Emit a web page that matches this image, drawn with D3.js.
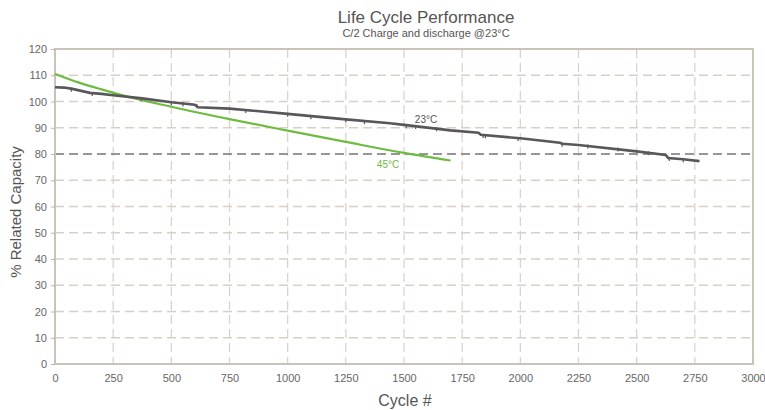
<!DOCTYPE html>
<html>
<head>
<meta charset="utf-8">
<script src="https://cdn.jsdelivr.net/npm/d3@7"></script>
<style>
    body { margin: 0; background: #fff; }
    text { font-family: "Liberation Sans", Arial, sans-serif; }
</style>
</head>
<body>
<div id="container"></div>
<script>
// cycles / capacity
const cycles23 = [0, 40, 75, 150, 200, 250, 375, 500, 600, 615, 750, 1000, 1250, 1440, 1500, 1700, 1820, 1830, 2000, 2170, 2180, 2250, 2500, 2625, 2635, 2700, 2770];
const capacity23 = [105.4, 105.3, 104.8, 103.3, 102.9, 102.4, 101.2, 99.7, 98.8, 97.8, 97.3, 95.3, 93.2, 91.7, 91.1, 89.0, 88.1, 87.3, 86.0, 84.3, 83.9, 83.4, 81.0, 79.6, 78.5, 78.0, 77.3];
// little glitch marks along the 23°C trace
const spikeCycles = [70, 160, 370, 500, 550, 610, 820, 1000, 1100, 1250, 1330, 1510, 1550, 1640, 1840, 1850, 1990, 2180, 2290, 2420, 2550, 2640, 2700];
const spikeValues = [104.9, 103.2, 101.3, 99.7, 99.2, 98.7, 96.8, 95.3, 94.4, 93.2, 92.5, 91.0, 90.7, 89.8, 87.2, 87.1, 86.1, 83.9, 83.2, 82.1, 80.7, 78.5, 78.0];

const cycles45 = [0, 100, 200, 275, 500, 750, 1000, 1250, 1500, 1700];
const capacity45 = [110.5, 107.3, 104.6, 102.7, 98.0, 93.3, 88.9, 84.6, 80.4, 77.5];

const xTicks = [0, 250, 500, 750, 1000, 1250, 1500, 1750, 2000, 2250, 2500, 2750, 3000];
const yTicks = [0, 10, 20, 30, 40, 50, 60, 70, 80, 90, 100, 110, 120];

const width = 765;
const height = 410;
const marginTop = 49;
const marginRight = 12;
const marginBottom = 46;
const marginLeft = 55;

const x = d3.scaleLinear().domain([0, 3000]).range([marginLeft, width - marginRight]);
const y = d3.scaleLinear().domain([0, 120]).range([height - marginBottom, marginTop]);

const svg = d3.select("#container").append("svg")
    .attr("width", width)
    .attr("height", height);

// grid
svg.append("g")
    .selectAll("line")
    .data(xTicks.filter(d => d > 0 && d < 3000))
    .join("line")
    .attr("x1", d => x(d)).attr("x2", d => x(d))
    .attr("y1", y(120)).attr("y2", y(0))
    .attr("stroke", "#d8d0c7")
    .attr("stroke-width", 1.2)
    .attr("stroke-dasharray", "9,5");

svg.append("g")
    .selectAll("line")
    .data(yTicks.filter(d => d > 0 && d < 120 && d !== 80))
    .join("line")
    .attr("x1", x(0)).attr("x2", x(3000))
    .attr("y1", d => y(d)).attr("y2", d => y(d))
    .attr("stroke", "#d8d0c7")
    .attr("stroke-width", 1.5)
    .attr("stroke-dasharray", "9,5");

// 80% end of life line
svg.append("line")
    .attr("x1", x(0)).attr("x2", x(3000))
    .attr("y1", y(80)).attr("y2", y(80))
    .attr("stroke", "#96969a")
    .attr("stroke-width", 2)
    .attr("stroke-dasharray", "9,5");

// frame
svg.append("rect")
    .attr("x", x(0)).attr("y", y(120))
    .attr("width", x(3000) - x(0))
    .attr("height", y(0) - y(120))
    .attr("fill", "none")
    .attr("stroke", "#cbc2b8")
    .attr("stroke-width", 2);

// axes
const xAxis = svg.append("g")
    .attr("transform", `translate(0,${y(0)})`)
    .call(d3.axisBottom(x).tickValues(xTicks).tickFormat(d3.format("d")).tickSize(0).tickPadding(10));
xAxis.select(".domain").remove();
xAxis.selectAll("text").attr("fill", "#666").style("font-size", "11px");

const yAxis = svg.append("g")
    .attr("transform", `translate(${x(0)},0)`)
    .call(d3.axisLeft(y).tickValues(yTicks).tickSize(4).tickPadding(4));
yAxis.select(".domain").remove();
yAxis.selectAll("line").attr("stroke", "#bdb4aa");
yAxis.selectAll("text").attr("fill", "#666").style("font-size", "11px");

// series
svg.append("path")
    .datum(cycles45.map((c, i) => [c, capacity45[i]]))
    .attr("fill", "none")
    .attr("stroke", "#6dbb40")
    .attr("stroke-width", 2.2)
    .attr("d", d3.line().x(d => x(d[0])).y(d => y(d[1])).curve(d3.curveMonotoneX));

svg.append("path")
    .datum(cycles23.map((c, i) => [c, capacity23[i]]))
    .attr("fill", "none")
    .attr("stroke", "#58585b")
    .attr("stroke-width", 2.6)
    .attr("d", d3.line().x(d => x(d[0])).y(d => y(d[1])));

svg.append("g")
    .selectAll("line")
    .data(spikeCycles.map((c, i) => [c, spikeValues[i]]))
    .join("line")
    .attr("x1", d => x(d[0])).attr("x2", d => x(d[0]))
    .attr("y1", d => y(d[1]) - 1).attr("y2", d => y(d[1]) + 3)
    .attr("stroke", "#58585b")
    .attr("stroke-width", 1.2);

// series labels
svg.append("text")
    .attr("x", 426).attr("y", 123)
    .attr("text-anchor", "middle")
    .attr("fill", "#555")
    .style("font-size", "10px")
    .text("23°C");

svg.append("text")
    .attr("x", 388).attr("y", 168)
    .attr("text-anchor", "middle")
    .attr("fill", "#6dbb40")
    .style("font-size", "10px")
    .text("45°C");

// titles
svg.append("text")
    .attr("x", 426).attr("y", 23)
    .attr("text-anchor", "middle")
    .attr("fill", "#555")
    .style("font-size", "17px")
    .text("Life Cycle Performance");

svg.append("text")
    .attr("x", 426).attr("y", 37)
    .attr("text-anchor", "middle")
    .attr("fill", "#555")
    .style("font-size", "11px")
    .text("C/2 Charge and discharge @23°C");

svg.append("text")
    .attr("x", 405).attr("y", 406)
    .attr("text-anchor", "middle")
    .attr("fill", "#555")
    .style("font-size", "16px")
    .text("Cycle #");

svg.append("text")
    .attr("transform", "translate(21,212) rotate(-90)")
    .attr("text-anchor", "middle")
    .attr("fill", "#555")
    .style("font-size", "15px")
    .text("% Related Capacity");
</script>
</body>
</html>
